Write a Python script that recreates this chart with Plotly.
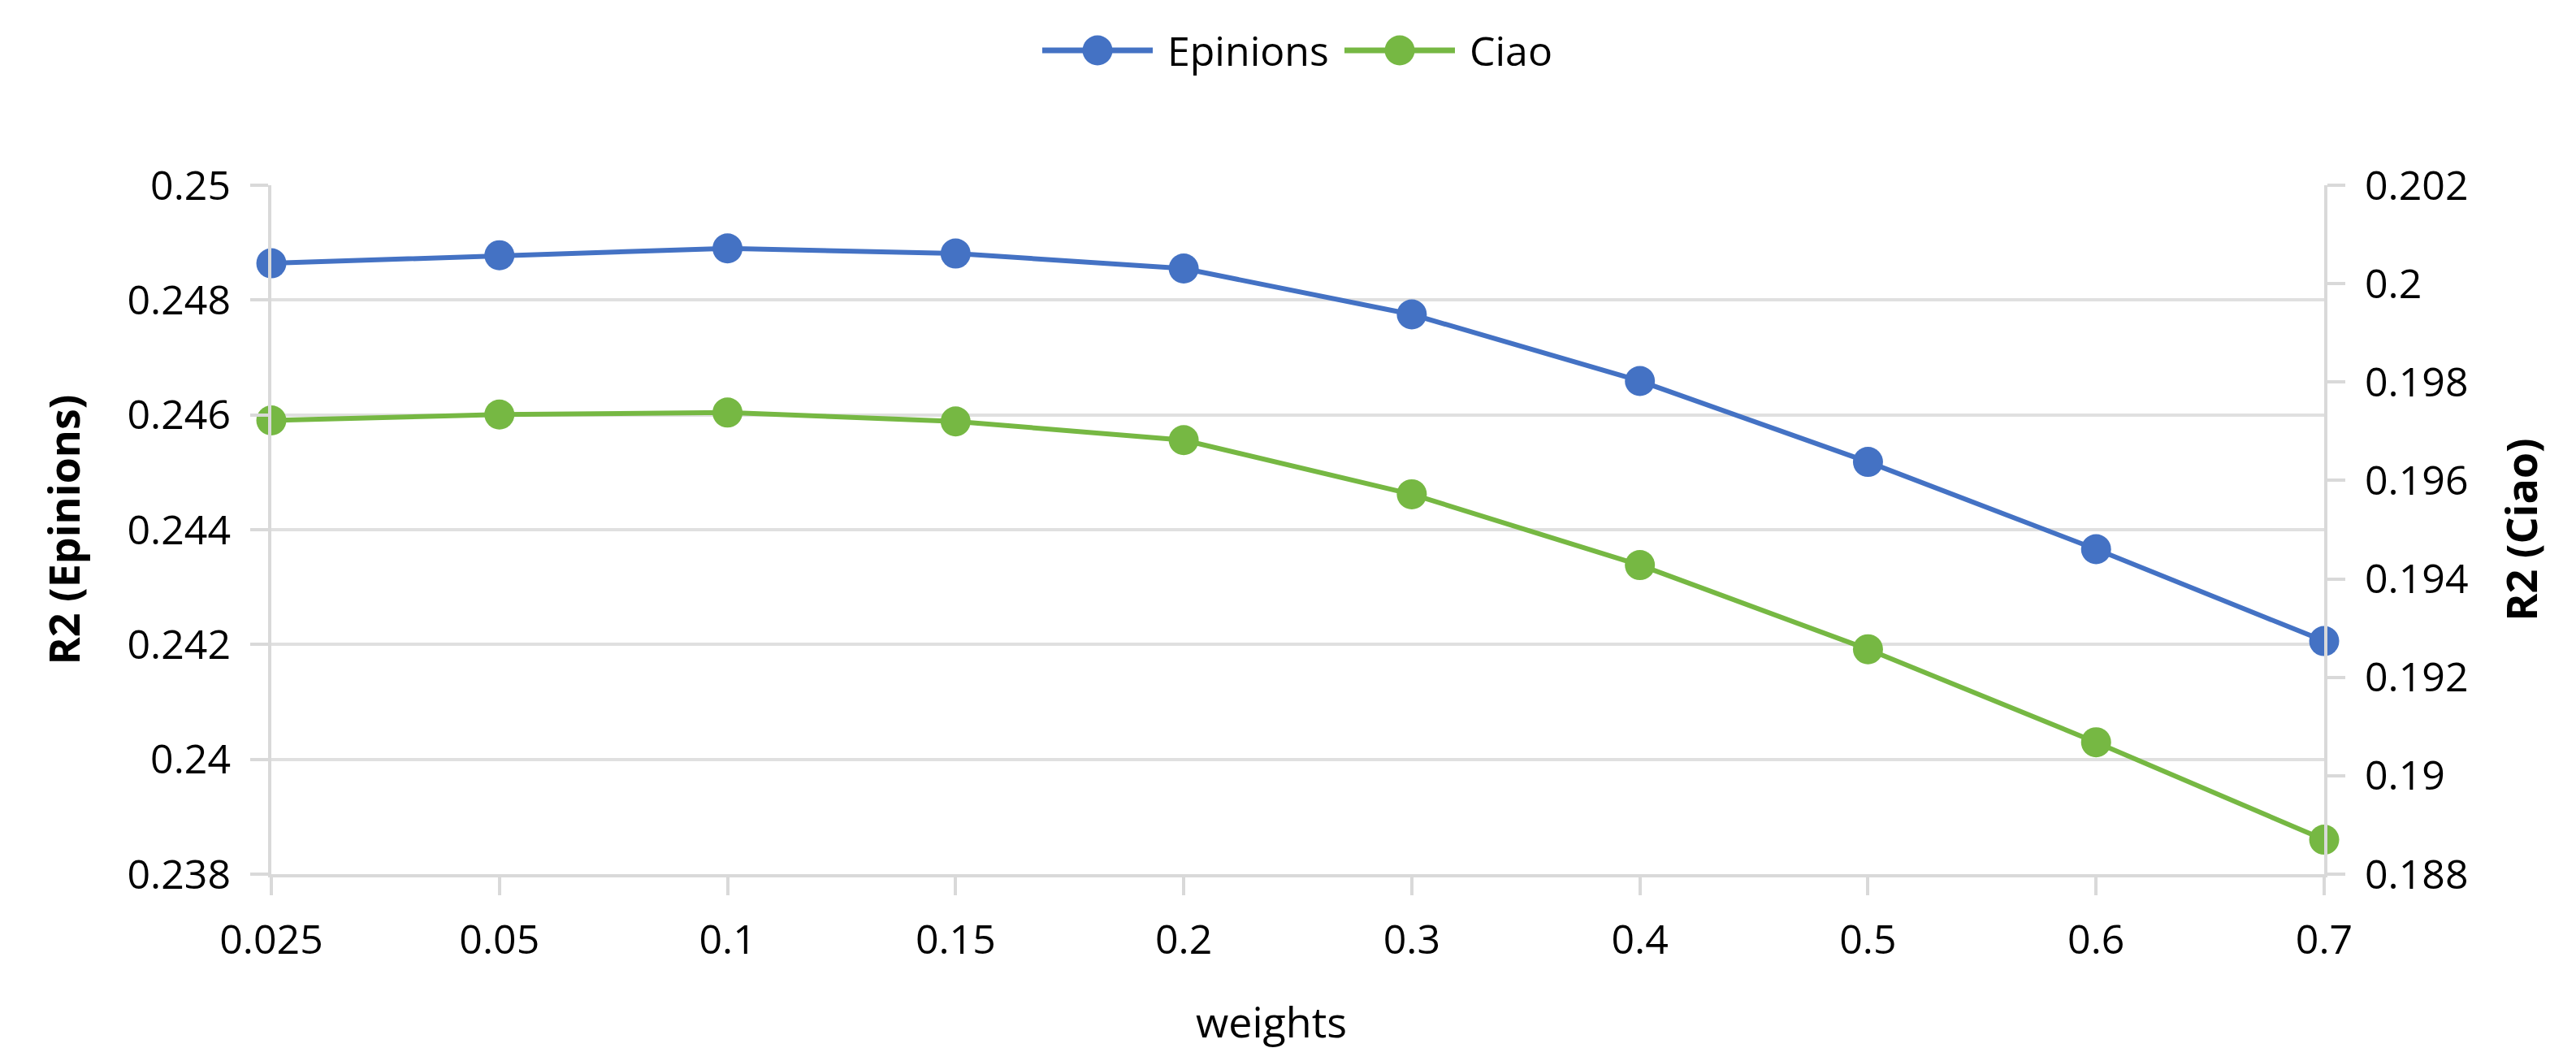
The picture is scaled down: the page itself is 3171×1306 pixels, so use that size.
import plotly.graph_objects as go

weights = ["0.025", "0.05", "0.1", "0.15", "0.2", "0.3", "0.4", "0.5", "0.6", "0.7"]
epinions = [0.24864, 0.24878, 0.24890, 0.24881, 0.24855, 0.24775, 0.24659, 0.24518, 0.24366, 0.24206]
ciao = [0.19722, 0.19734, 0.19738, 0.19720, 0.19682, 0.19572, 0.19428, 0.19257, 0.19068, 0.18870]

left_ticks = [0.238, 0.240, 0.242, 0.244, 0.246, 0.248, 0.250]
left_labels = ["0.238", "0.24", "0.242", "0.244", "0.246", "0.248", "0.25"]
right_ticks = [0.188, 0.190, 0.192, 0.194, 0.196, 0.198, 0.200, 0.202]
right_labels = ["0.188", "0.19", "0.192", "0.194", "0.196", "0.198", "0.2", "0.202"]

series_names = ["Epinions", "Ciao"]
x_title = "weights"

BLUE = "#4472C4"
GREEN = "#76B843"
GRID = "#E0E0E0"
AXIS = "#D9D9D9"
FONT = "Open Sans"

W, H = 3171, 1306
ML, MR, MT, MB = 326, 318, 220, 238
PW, PH = W - ML - MR, H - MT - MB

def px_x(p):
    return (p - ML) / PW

def px_y(p):
    return (H - MB - p) / PH

fig = go.Figure()
fig.add_trace(go.Scatter(x=weights, y=epinions, name=series_names[0], mode="lines+markers",
                         line=dict(color=BLUE, width=6), marker=dict(color=BLUE, size=37),
                         yaxis="y", showlegend=False, cliponaxis=False))
fig.add_trace(go.Scatter(x=weights, y=ciao, name=series_names[1], mode="lines+markers",
                         line=dict(color=GREEN, width=6), marker=dict(color=GREEN, size=37),
                         yaxis="y2", showlegend=False, cliponaxis=False))

# custom legend (Excel-style long line + big marker)
legend_y = px_y(54)
legend_items = [(series_names[0], BLUE, 1275), (series_names[1], GREEN, 1647)]
shapes = []
annotations = []
for name, col, start in legend_items:
    shapes.append(dict(type="line", xref="paper", yref="paper",
                       x0=px_x(start), x1=px_x(start + 136), y0=legend_y, y1=legend_y,
                       line=dict(color=col, width=7)))
    shapes.append(dict(type="circle", xref="paper", yref="paper",
                       xsizemode="pixel", ysizemode="pixel",
                       xanchor=px_x(start + 68), yanchor=legend_y,
                       x0=-18.5, x1=18.5, y0=-18.5, y1=18.5,
                       fillcolor=col, line=dict(color=col, width=0)))
    annotations.append(dict(text=name, xref="paper", yref="paper",
                            x=px_x(start + 152), y=legend_y, xanchor="left", yanchor="middle",
                            showarrow=False, font=dict(size=50, color="black")))

# x-axis title (slightly left of centre, as in the reference)
annotations.append(dict(text=x_title, xref="paper", yref="paper",
                        x=px_x(1557), y=px_y(1248), xanchor="center", yanchor="middle",
                        showarrow=False, font=dict(size=52, color="black")))

fig.update_layout(
    width=W, height=H,
    margin=dict(l=ML, r=MR, t=MT, b=MB, autoexpand=False),
    paper_bgcolor="white", plot_bgcolor="white",
    font=dict(family=FONT, size=50, color="black"),
    showlegend=False,
    shapes=shapes, annotations=annotations,
    xaxis=dict(type="category", range=[0, 9], showgrid=False,
               showline=True, linecolor=AXIS, linewidth=4,
               ticks="outside", ticklen=22, tickwidth=4, tickcolor=AXIS,
               tickfont=dict(size=50), ticklabelstandoff=12),
    yaxis=dict(range=[0.238, 0.250], tickvals=left_ticks, ticktext=left_labels,
               showgrid=True, gridcolor=GRID, gridwidth=4, zeroline=False,
               showline=True, linecolor=AXIS, linewidth=4,
               ticks="outside", ticklen=22, tickwidth=4, tickcolor=AXIS,
               tickfont=dict(size=50), ticklabelstandoff=14,
               title=dict(text="<b>R2 (Epinions)</b>", font=dict(size=52), standoff=42)),
    yaxis2=dict(range=[0.188, 0.202], tickvals=right_ticks, ticktext=right_labels,
                overlaying="y", side="right", showgrid=False, zeroline=False,
                showline=True, linecolor=AXIS, linewidth=4,
                ticks="outside", ticklen=22, tickwidth=4, tickcolor=AXIS,
                tickfont=dict(size=50), ticklabelstandoff=14,
                title=dict(text="<b>R2 (Ciao)</b>", font=dict(size=52), standoff=50)),
)

fig.write_html("out.html")
